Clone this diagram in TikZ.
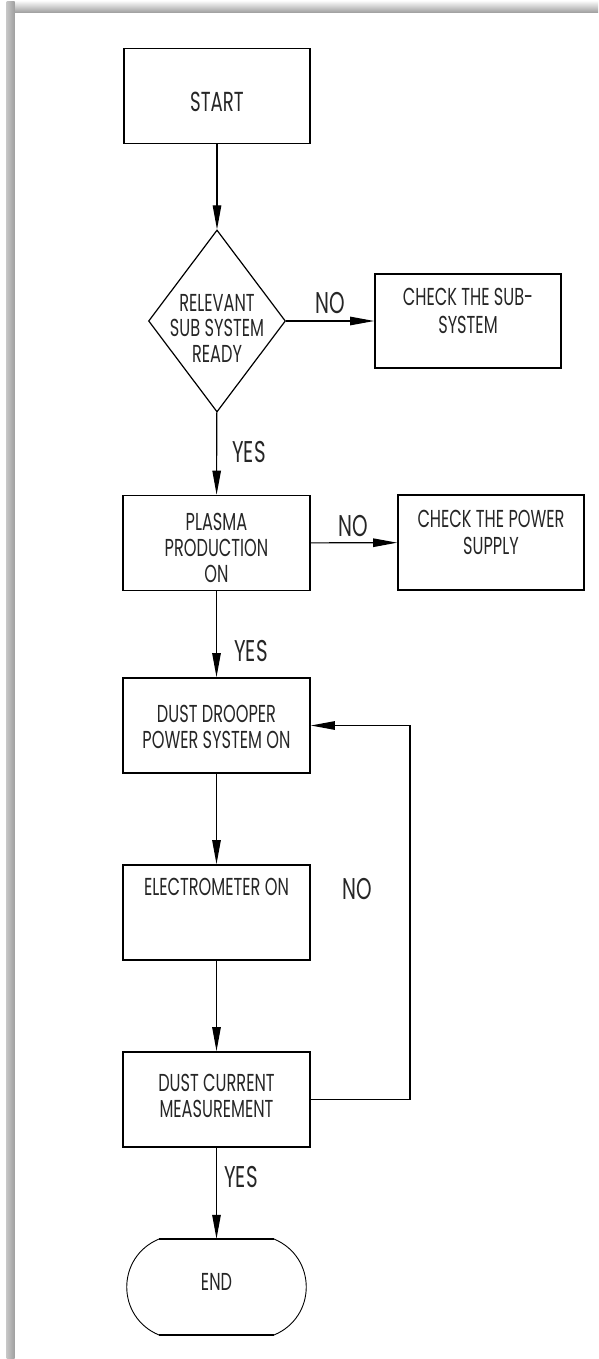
\documentclass[tikz,border=0pt]{standalone}
\usepackage{fontspec}
\usetikzlibrary{shapes.geometric,arrows.meta}
\newfontfamily\gfont[FakeStretch=0.66]{Poppins}
\begin{document}
\begin{tikzpicture}[x=1pt,y=-1pt,
  box/.style={draw, line width=1.7pt, minimum width=187pt, minimum height=95pt, inner sep=0pt},
  txt/.style={font=\gfont\fontsize{24.5}{26.3}\selectfont, text=black!85, align=center, inner sep=0pt},
  lbl/.style={font=\gfont\fontsize{30}{30}\selectfont, text=black!85, inner sep=0pt},
  arr/.style={line width=1.1pt, -{Triangle[length=24pt,width=8.5pt]}}]
\useasboundingbox (0,0) rectangle (598,1359);
% frame
\shade[top color=gray!10, bottom color=gray!75] (7,2) rectangle (598,12.5);
\shade[left color=gray!45, right color=gray!75] (6.5,2) rectangle (14.5,1359);
% nodes
\node[box, line width=1.3pt, minimum width=186pt] (start) at (217,95.8) {};
\node[txt, font=\gfont\fontsize{27.5}{30}\selectfont] (tstart) at (217,101.7) {START};
\node[draw, diamond, line width=1.2pt, minimum width=137pt, minimum height=182pt, inner sep=0pt] (dec) at (217,321) {};
\node[txt, font=\gfont\fontsize{24.5}{25.5}\selectfont] (tdec) at (217,328) {RELEVANT\\SUB SYSTEM\\READY};
\node[box, minimum width=186pt, minimum height=94pt] (chk1) at (468,321) {};
\node[txt, font=\gfont\fontsize{24.5}{28}\selectfont] (tchk1) at (468,311) {CHECK THE SUB-\\SYSTEM};
\node[box] (plasma) at (216.5,543) {};
\node[txt] (tplasma) at (216.5,548) {PLASMA\\PRODUCTION\\ON};
\node[box, minimum width=186pt] (chk2) at (491,542.5) {};
\node[txt] (tchk2) at (491,532.5) {CHECK THE POWER\\SUPPLY};
\node[box] (dust) at (216.5,725.5) {};
\node[txt] (tdust) at (216.5,727) {DUST DROOPER\\POWER SYSTEM ON};
\node[box] (elec) at (216.5,912.5) {};
\node[txt] (telec) at (216.5,887) {ELECTROMETER ON};
\node[box] (meas) at (216.5,1099.5) {};
\node[txt] (tmeas) at (216.5,1096) {DUST CURRENT\\MEASUREMENT};
\node[minimum width=180pt, minimum height=96pt, inner sep=0pt] (endn) at (216.5,1287) {};
\draw[line width=0.9pt] (159,1239) .. controls (116,1257) and (116,1317) .. (159,1335);
\draw[line width=0.9pt] (274,1239) .. controls (317,1257) and (317,1317) .. (274,1335);
\draw[line width=2pt] (159,1239) -- (274,1239);
\draw[line width=2pt] (159,1335) -- (274,1335);
\node[txt] (tend) at (216.5,1282) {END};
% labels
\node[lbl] (no1) at (330,303) {NO};
\node[lbl] (no2) at (353,526) {NO};
\node[lbl] (no3) at (357,889) {NO};
\node[lbl] (yes1) at (249,452) {YES};
\node[lbl] (yes2) at (251,651) {YES};
\node[lbl] (yes3) at (241,1177) {YES};
% connectors
\coordinate (fb) at (410,0);
\draw[arr] (start) -- (dec);
\draw[arr] (dec) -- (chk1);
\draw[arr] (dec) -- (plasma);
\draw[arr] (plasma) -- (chk2);
\draw[arr] (plasma) -- (dust);
\draw[arr] (dust) -- (elec);
\draw[arr] (elec) -- (meas);
\draw[arr] (meas.east) -- (meas.east -| fb) -- (dust.east -| fb) -- (dust.east);
\draw[arr] (meas) -- (endn);
\end{tikzpicture}
\end{document}
